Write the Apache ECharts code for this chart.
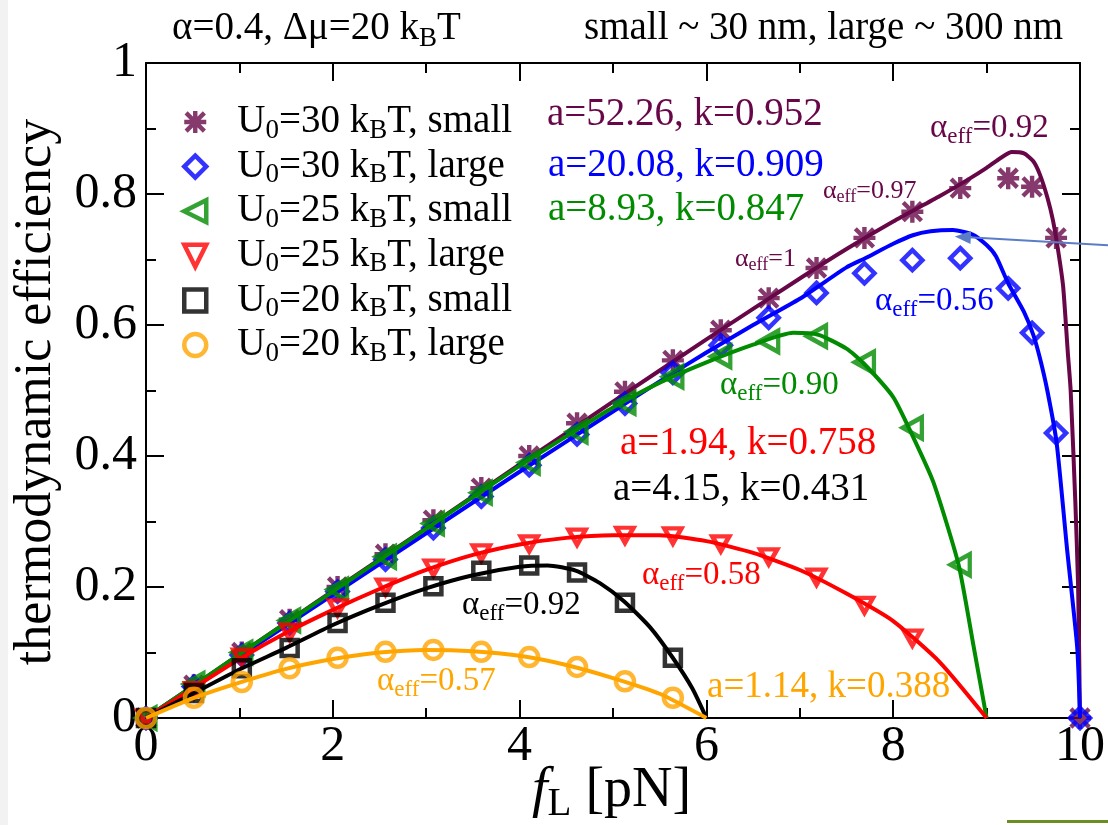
<!DOCTYPE html>
<html><head><meta charset="utf-8">
<script src="https://cdn.jsdelivr.net/npm/echarts@6/dist/echarts.min.js"></script>
<style>html,body{margin:0;padding:0;background:#fff}#c{width:1108px;height:825px}</style>
</head><body><div id="c"></div>
<script>
// ---------- DATA ----------
const xTicks = [0, 2, 4, 6, 8, 10];
const yTicks = [0, 0.2, 0.4, 0.6, 0.8, 1];
const seriesNames = ['U0=30 kBT, small', 'U0=30 kBT, large', 'U0=25 kBT, small', 'U0=25 kBT, large', 'U0=20 kBT, small', 'U0=20 kBT, large'];

// simulation points (f_L in pN, efficiency)
const fU30Small = [0, 0.513, 1.026, 1.538, 2.051, 2.564, 3.077, 3.590, 4.103, 4.615, 5.128, 5.641, 6.154, 6.667, 7.179, 7.692, 8.205, 8.718, 9.231, 9.487, 9.744, 10];
const effU30Small = [0, 0.05, 0.1, 0.15, 0.2, 0.25, 0.302, 0.351, 0.4, 0.45, 0.498, 0.546, 0.592, 0.641, 0.687, 0.733, 0.773, 0.809, 0.824, 0.811, 0.733, 0];
const fU30Large = [0, 0.513, 1.026, 1.538, 2.051, 2.564, 3.077, 3.590, 4.103, 4.615, 5.128, 5.641, 6.154, 6.667, 7.179, 7.692, 8.205, 8.718, 9.231, 9.487, 9.744, 10];
const effU30Large = [0, 0.048, 0.096, 0.145, 0.193, 0.242, 0.29, 0.338, 0.386, 0.433, 0.48, 0.527, 0.569, 0.611, 0.649, 0.679, 0.699, 0.702, 0.656, 0.588, 0.435, 0];
const fU25Small = [0, 0.513, 1.026, 1.538, 2.051, 2.564, 3.077, 3.590, 4.103, 4.615, 5.128, 5.641, 6.154, 6.667, 7.179, 7.692, 8.205, 8.718];
const effU25Small = [0, 0.052, 0.1, 0.149, 0.196, 0.246, 0.297, 0.344, 0.39, 0.437, 0.481, 0.521, 0.552, 0.575, 0.583, 0.543, 0.443, 0.234];
const fU25Large = [0, 0.513, 1.026, 1.538, 2.051, 2.564, 3.077, 3.590, 4.103, 4.615, 5.128, 5.641, 6.154, 6.667, 7.179, 7.692, 8.205];
const effU25Large = [0, 0.042, 0.093, 0.131, 0.168, 0.2, 0.229, 0.252, 0.266, 0.276, 0.279, 0.278, 0.266, 0.246, 0.215, 0.172, 0.122];
const fU20Small = [0, 0.513, 1.026, 1.538, 2.051, 2.564, 3.077, 3.590, 4.103, 4.615, 5.128, 5.641];
const effU20Small = [0, 0.038, 0.076, 0.107, 0.145, 0.176, 0.201, 0.225, 0.233, 0.222, 0.176, 0.092];
const fU20Large = [0, 0.513, 1.026, 1.538, 2.051, 2.564, 3.077, 3.590, 4.103, 4.615, 5.128, 5.641];
const effU20Large = [0, 0.031, 0.055, 0.076, 0.092, 0.101, 0.104, 0.101, 0.093, 0.078, 0.056, 0.031];

// fitted curves
const fitFU30Small = [0, 1, 2, 3, 4, 5, 6, 7, 7.5, 8, 8.5, 8.8, 9.0, 9.15, 9.27, 9.4, 9.5, 9.57, 9.65, 9.71, 9.77, 9.82, 9.87, 9.9, 9.95, 9.98, 10];
const fitEU30Small = [0, 0.097, 0.194, 0.29, 0.387, 0.483, 0.578, 0.671, 0.716, 0.758, 0.797, 0.822, 0.84, 0.855, 0.864, 0.862, 0.85, 0.83, 0.795, 0.76, 0.71, 0.658, 0.557, 0.5, 0.33, 0.2, 0];
const fitFU30Large = [0, 1, 2, 3, 4, 5, 5.5, 6, 6.5, 7, 7.5, 7.7, 8, 8.21, 8.4, 8.64, 8.85, 9.0, 9.1, 9.23, 9.4, 9.5, 9.57, 9.65, 9.75, 9.86, 9.97, 10];
const fitEU30Large = [0, 0.094, 0.188, 0.282, 0.376, 0.468, 0.514, 0.558, 0.6, 0.64, 0.688, 0.702, 0.724, 0.737, 0.743, 0.745, 0.738, 0.722, 0.705, 0.664, 0.62, 0.585, 0.55, 0.5, 0.42, 0.26, 0.108, 0];
const fitFU25Small = [0, 1, 2, 3, 4, 4.5, 5, 5.5, 6, 6.5, 6.93, 7.2, 7.5, 7.68, 8.0, 8.21, 8.43, 8.7, 8.86, 9.0];
const fitEU25Small = [0, 0.097, 0.193, 0.289, 0.385, 0.43, 0.474, 0.512, 0.543, 0.57, 0.588, 0.585, 0.564, 0.542, 0.49, 0.43, 0.36, 0.234, 0.11, 0];
const fitFU25Large = [0, 0.5, 1, 1.5, 2, 2.5, 3, 3.5, 4, 4.5, 5, 5.5, 6, 6.5, 7, 7.5, 8, 8.5, 9.0];
const fitEU25Large = [0, 0.045, 0.09, 0.13, 0.165, 0.197, 0.226, 0.249, 0.265, 0.275, 0.279, 0.279, 0.27, 0.252, 0.226, 0.19, 0.148, 0.085, 0];
const fitFU20Small = [0, 0.5, 1, 1.5, 2, 2.5, 3, 3.5, 4, 4.3, 4.6, 4.86, 5.12, 5.4, 5.64, 5.85, 6.0];
const fitEU20Small = [0, 0.037, 0.074, 0.107, 0.142, 0.172, 0.198, 0.218, 0.231, 0.233, 0.225, 0.206, 0.178, 0.138, 0.092, 0.045, 0];
const fitFU20Large = [0, 0.5, 1, 1.5, 2, 2.5, 3, 3.5, 4, 4.5, 5, 5.5, 6];
const fitEU20Large = [0, 0.03, 0.054, 0.075, 0.09, 0.1, 0.104, 0.102, 0.095, 0.081, 0.061, 0.037, 0];

// arrow annotation (tail outside plot -> head at blue maximum): [tailF, tailEff, headF, headEff]
const arrowData = [[10.4, 0.721, 8.66, 0.735]];

// ---------- STYLE ----------
const FONT = 'Liberation Serif';
const C = { purple: '#670748', blue: '#0000ff', green: '#008b00', red: '#ff0000', black: '#000000', orange: '#ffa500' };
const zip = (a, b) => a.map((v, i) => [v, b[i]]);
const STAR = 'path://M0 8H20V12H0Z M8 0H12V20H8Z M0.3 3.1L3.1 0.3L19.7 16.9L16.9 19.7Z M16.9 0.3L19.7 3.1L3.1 19.7L0.3 16.9Z';
const TRI_LEFT = 'path://M20 0L20 20L0 10Z';
const TRI_DOWN = 'path://M0 0L20 0L10 20Z';
const BW = 4.5;

const sets = [
  { name: seriesNames[0], fx: fU30Small, fy: effU30Small, cx: fitFU30Small, cy: fitEU30Small, color: C.purple, symbol: STAR, size: 22, filled: true },
  { name: seriesNames[1], fx: fU30Large, fy: effU30Large, cx: fitFU30Large, cy: fitEU30Large, color: C.blue, symbol: 'diamond', size: 20 },
  { name: seriesNames[2], fx: fU25Small, fy: effU25Small, cx: fitFU25Small, cy: fitEU25Small, color: C.green, symbol: TRI_LEFT, size: [19, 21] },
  { name: seriesNames[3], fx: fU25Large, fy: effU25Large, cx: fitFU25Large, cy: fitEU25Large, color: C.red, symbol: TRI_DOWN, size: [17, 15] },
  { name: seriesNames[4], fx: fU20Small, fy: effU20Small, cx: fitFU20Small, cy: fitEU20Small, color: C.black, symbol: 'rect', size: 16 },
  { name: seriesNames[5], fx: fU20Large, fy: effU20Large, cx: fitFU20Large, cy: fitEU20Large, color: C.orange, symbol: 'circle', size: 18 }
];

const series = [];
sets.forEach((s, i) => {
  series.push({
    type: 'line', name: 'fit' + i, data: zip(s.cx, s.cy), showSymbol: false, symbol: 'none',
    smooth: 0.2, lineStyle: { color: s.color, width: 4 }, z: 2 + i * 2, silent: true
  });
  series.push({
    type: 'scatter', name: s.name, data: zip(s.fx, s.fy), symbol: s.symbol, symbolSize: s.size,
    itemStyle: s.filled ? { color: s.color } : { color: 'rgba(0,0,0,0)', borderColor: s.color, borderWidth: BW },
    z: 3 + i * 2, silent: true
  });
});
series.push({
  type: 'custom', name: 'arrow', data: arrowData, clip: false, silent: true, z: 20,
  encode: { x: [0, 2], y: [1, 3] },
  renderItem: function (params, api) {
    const t = api.coord([api.value(0), api.value(1)]);
    const h = api.coord([api.value(2), api.value(3)]);
    const dx = h[0] - t[0], dy = h[1] - t[1];
    const len = Math.sqrt(dx * dx + dy * dy);
    const ux = dx / len, uy = dy / len;
    const hl = 16, hw = 6.5;
    const bx = h[0] - ux * hl, by = h[1] - uy * hl;
    return {
      type: 'group',
      children: [
        { type: 'line', shape: { x1: t[0], y1: t[1], x2: bx + ux * 2, y2: by + uy * 2 }, style: { stroke: '#5b7cc6', lineWidth: 2 } },
        { type: 'polygon', shape: { points: [[h[0], h[1]], [bx - uy * hw, by + ux * hw], [bx + uy * hw, by - ux * hw]] }, style: { fill: '#5b7cc6' } }
      ]
    };
  }
});

function txt(text, left, baseline, size, color) {
  const L = Math.round(size * 1.2);
  const d = Math.round(size * 0.3);
  const top = baseline - (L / 2 + 0.34 * size);
  return {
    type: 'text', x: left, y: top, z: 100, silent: true,
    style: {
      text: text, fill: color, fontFamily: FONT, fontSize: size, lineHeight: L,
      align: 'left', verticalAlign: 'top',
      rich: {
        s: { fontFamily: FONT, fontSize: Math.round(size * 0.7), fill: color, lineHeight: L - 2 * d, verticalAlign: 'bottom' },
        i: { fontFamily: FONT, fontSize: size, fontStyle: 'italic', fill: color, lineHeight: L }
      }
    }
  };
}

const graphics = [
  { type: 'rect', shape: { x: 0, y: 0, width: 8, height: 825 }, style: { fill: '#f2f2f2' }, z: -1, silent: true },
  { type: 'rect', shape: { x: 1007, y: 820, width: 101, height: 3 }, style: { fill: '#6b8e23' }, silent: true },
  txt('α=0.4, Δμ=20 k{s|B}T', 172, 42, 39, '#000'),
  txt('small ~ 30 nm, large ~ 300 nm', 584, 42, 39, '#000'),
  txt('a=52.26, k=0.952', 547, 128, 39, C.purple),
  txt('a=20.08, k=0.909', 548, 179, 39, C.blue),
  txt('a=8.93, k=0.847', 548, 223, 39, C.green),
  txt('α{s|eff}=0.92', 930, 140, 33, C.purple),
  txt('α{s|eff}=0.97', 823, 200, 26, C.purple),
  txt('α{s|eff}=1', 735, 268, 26, C.purple),
  txt('α{s|eff}=0.56', 875, 313, 33, C.blue),
  txt('α{s|eff}=0.90', 720, 397, 33, C.green),
  txt('a=1.94, k=0.758', 620, 457, 39, C.red),
  txt('a=4.15, k=0.431', 613, 503, 39, C.black),
  txt('α{s|eff}=0.58', 642, 587, 33, C.red),
  txt('α{s|eff}=0.92', 462, 617, 33, C.black),
  txt('α{s|eff}=0.57', 377, 693, 33, C.orange),
  txt('a=1.14, k=0.388', 707, 700, 37, C.orange),
  txt('{i|f}{s|L} [pN]', 532, 810, 56, '#000'),
  {
    type: 'text', x: 36, y: 392, rotation: Math.PI / 2, silent: true,
    style: { text: 'thermodynamic efficiency', fill: '#000', fontFamily: FONT, fontSize: 52, align: 'center', verticalAlign: 'middle' }
  }
];

const axisCommon = {
  axisLine: { show: true, onZero: false, lineStyle: { color: '#000', width: 2 } },
  axisTick: { show: true, inside: true, length: 18, lineStyle: { color: '#000', width: 2 } },
  minorTick: { show: true, splitNumber: 2, length: 10, lineStyle: { color: '#000', width: 2 } },
  splitLine: { show: false }, minorSplitLine: { show: false }
};
const fmtY = v => (v === 0 ? '0' : v === 1 ? '1' : v.toFixed(1));

const option = {
  animation: false,
  backgroundColor: '#fff',
  grid: { left: 146, right: 26, top: 63, bottom: 107, containLabel: false },
  xAxis: [
    Object.assign({ type: 'value', position: 'bottom', min: xTicks[0], max: xTicks[xTicks.length - 1], interval: xTicks[1] - xTicks[0],
      axisLabel: { show: true, margin: 4, fontFamily: FONT, fontSize: 50, color: '#000' } }, axisCommon),
    Object.assign({ type: 'value', position: 'top', min: xTicks[0], max: xTicks[xTicks.length - 1], interval: xTicks[1] - xTicks[0],
      axisLabel: { show: false } }, axisCommon)
  ],
  yAxis: [
    Object.assign({ type: 'value', position: 'left', min: yTicks[0], max: yTicks[yTicks.length - 1], interval: yTicks[1] - yTicks[0],
      axisLabel: { show: true, margin: 9, fontFamily: FONT, fontSize: 50, color: '#000', formatter: fmtY } }, axisCommon),
    Object.assign({ type: 'value', position: 'right', min: yTicks[0], max: yTicks[yTicks.length - 1], interval: yTicks[1] - yTicks[0],
      axisLabel: { show: false } }, axisCommon)
  ],
  legend: {
    orient: 'vertical', left: 182, top: 100, padding: 0, itemWidth: 22, itemHeight: 22, itemGap: 0.6,
    selectedMode: false,
    data: sets.map(s => {
      const d = { name: s.name };
      if (!s.filled) d.itemStyle = { borderWidth: BW };
      return d;
    }),
    formatter: n => n.replace('U0', 'U{s|0}').replace('kBT', 'k{s|B}T'),
    textStyle: {
      fontFamily: FONT, fontSize: 39, color: '#000', lineHeight: 44, padding: [0, 0, 0, 26],
      rich: { s: { fontFamily: FONT, fontSize: 27, color: '#000', lineHeight: 20, verticalAlign: 'bottom' } }
    }
  },
  graphic: graphics,
  series: series
};

const chart = echarts.init(document.getElementById('c'), null, { renderer: 'canvas' });
chart.setOption(option);
</script></body></html>
